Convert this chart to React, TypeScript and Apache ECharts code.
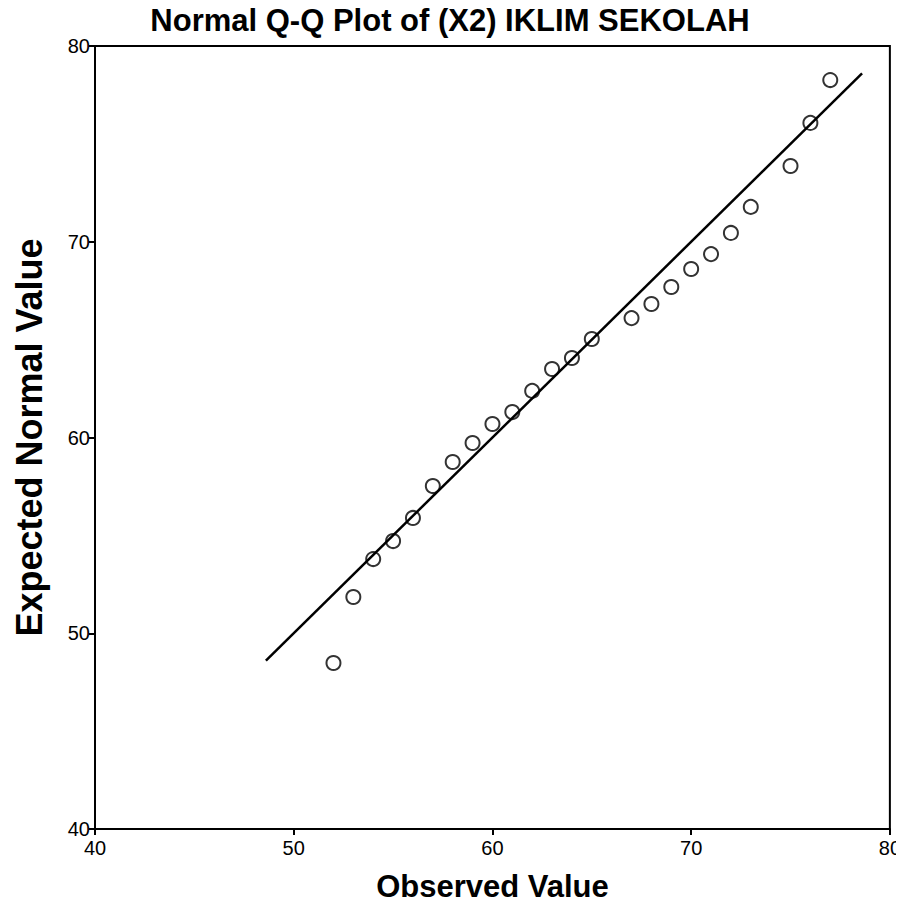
import React, { useEffect, useRef } from "react";
import * as echarts from "echarts";

const observed = [52, 53, 54, 55, 56, 57, 58, 59, 60, 61, 62, 63, 64, 65, 67, 68, 69, 70, 71, 72, 73, 75, 76, 77];
const expected = [48.48, 51.85, 53.79, 54.71, 55.89, 57.52, 58.75, 59.72, 60.69, 61.3, 62.38, 63.5, 64.06, 65.03, 66.1, 66.82, 67.69, 68.61, 69.37, 70.45, 71.78, 73.87, 76.07, 78.26];
const refLine = [
  [48.6, 48.6],
  [78.6, 78.6],
];
const axisMin = 40;
const axisMax = 80;
const axisStep = 10;

const FONT = "'Liberation Sans', Arial, sans-serif";

export default function App() {
  const ref = useRef<HTMLDivElement>(null);
  useEffect(() => {
    if (!ref.current) return;
    const chart = echarts.init(ref.current, undefined, { renderer: "svg" });
    const axisCommon = {
      type: "value" as const,
      min: axisMin,
      max: axisMax,
      interval: axisStep,
      nameLocation: "middle" as const,
      axisLine: { show: true, lineStyle: { color: "#000", width: 2 } },
      axisTick: { show: true, inside: false, length: 6, lineStyle: { color: "#000", width: 2 } },
      axisLabel: { fontFamily: FONT, fontSize: 20, color: "#000" },
      splitLine: { show: false },
    };
    chart.setOption({
      animation: false,
      backgroundColor: "#fff",
      title: {
        text: "Normal Q-Q Plot of (X2) IKLIM SEKOLAH",
        left: 445,
        textAlign: "center",
        top: 0,
        textStyle: { fontFamily: FONT, fontWeight: "bold", fontSize: 31, color: "#000" },
      },
      grid: {
        left: 95,
        top: 46,
        right: 14,
        bottom: 92,
        show: true,
        borderColor: "#000",
        borderWidth: 2,
        backgroundColor: "transparent",
      },
      xAxis: {
        ...axisCommon,
        name: "Observed Value",
        nameGap: 42,
        nameTextStyle: { fontFamily: FONT, fontWeight: "bold", fontSize: 31, color: "#000" },
        axisLabel: { ...axisCommon.axisLabel, margin: 9 },
      },
      yAxis: {
        ...axisCommon,
        name: "Expected Normal Value",
        nameGap: 48,
        nameTextStyle: { fontFamily: FONT, fontWeight: "bold", fontSize: 36, color: "#000" },
        axisLabel: { ...axisCommon.axisLabel, margin: 5 },
      },
      series: [
        {
          type: "line",
          data: refLine,
          symbol: "none",
          lineStyle: { color: "#000", width: 2.5 },
          z: 2,
        },
        {
          type: "scatter",
          data: observed.map((x, i) => [x, expected[i]]),
          symbol: "circle",
          symbolSize: 14,
          itemStyle: { color: "transparent", borderColor: "#000", borderWidth: 2 },
          z: 3,
        },
      ],
    });
    return () => chart.dispose();
  }, []);
  return <div ref={ref} style={{ width: 904, height: 921, margin: -8 }} />;
}
